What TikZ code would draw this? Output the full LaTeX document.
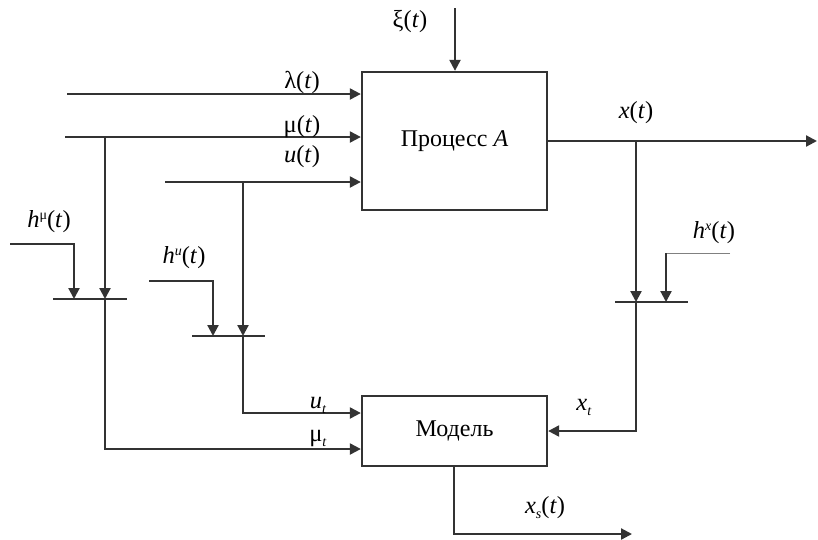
\documentclass[tikz,border=0pt]{standalone}
\usepackage{fontspec}
\setmainfont{Liberation Serif}
\usetikzlibrary{arrows.meta}
\definecolor{ink}{HTML}{333333}
\newcommand{\ivar}[1]{\textit{#1}}
\newcommand{\lowidx}[1]{\raisebox{-0.45ex}{\fontsize{14}{14}\selectfont #1}}
\newcommand{\upidx}[1]{\raisebox{0.75ex}{\fontsize{14}{14}\selectfont #1}}
\tikzset{
  wire/.style={draw=ink, line width=2.2pt},
  thinwire/.style={draw=gray, line width=1pt},
  sig/.style={wire, -{Triangle[length=11pt,width=11pt]}},
  bar/.style={draw=ink, line width=2.2pt},
  block/.style={draw=ink, line width=2.3pt, fill=white, inner sep=0pt, font=\fontsize{24}{28}\selectfont},
  lbl/.style={inner sep=0pt, font=\fontsize{24.5}{28}\selectfont}
}
\begin{document}
\begin{tikzpicture}[x=1pt, y=-1pt]
\useasboundingbox (0,0) rectangle (818,539);

% blocks
\node[block, minimum width=185pt, minimum height=138pt] (proc) at (454.5,141) {Процесс \ivar{A}};
\node[block, minimum width=185pt, minimum height=70pt] (model) at (454.5,431) {Модель};

% input ends and branch points
\coordinate (xiIn) at (455,8);
\coordinate (lamIn) at (67,94);
\coordinate (muIn) at (65,137);
\coordinate (uIn) at (165,182);
\coordinate (muBr) at (105,137);
\coordinate (uBr) at (243,182);
\coordinate (xBr) at (636,141);
\coordinate (xOut) at (817,141);

% sampler bars
\coordinate (bmL) at (53,299);  \coordinate (bmR) at (127,299);
\coordinate (buL) at (192,336); \coordinate (buR) at (265,336);
\coordinate (bxL) at (615,302); \coordinate (bxR) at (688,302);
\coordinate (bm) at (105,299);
\coordinate (bu) at (243,336);
\coordinate (bx) at (636,302);

% clock inputs of the samplers
\coordinate (hmIn) at (10,244);  \coordinate (hmC) at (74,244);  \coordinate (hmB) at (74,299);
\coordinate (huIn) at (149,281); \coordinate (huC) at (213,281); \coordinate (huB) at (213,336);
\coordinate (hxIn) at (730,253); \coordinate (hxC) at (666,253); \coordinate (hxB) at (666,302);

% model output
\coordinate (xsC) at (454,534);
\coordinate (xsOut) at (632,534);

% process inputs and output
\draw[sig] (xiIn) -- (xiIn |- proc.north);
\draw[sig] (lamIn) -- (lamIn -| proc.west);
\draw[sig] (muIn) -- (muIn -| proc.west);
\draw[sig] (uIn) -- (uIn -| proc.west);
\draw[sig] (xBr -| proc.east) -- (xOut);

% sampling bars
\draw[bar] (bmL) -- (bmR);
\draw[bar] (buL) -- (buR);
\draw[bar] (bxL) -- (bxR);

% signals into the samplers
\draw[sig] (muBr) -- (bm);
\draw[sig] (uBr) -- (bu);
\draw[sig] (xBr) -- (bx);
\draw[sig] (hmIn) -- (hmC) -- (hmB);
\draw[sig] (huIn) -- (huC) -- (huB);
\draw[thinwire] (hxIn) -- (hxC);
\draw[sig] (hxC) -- (hxB);

% sampled values into the model
\draw[sig] (bu) |- (model.west |- 0,413);
\draw[sig] (bm) |- (model.west |- 0,449);
\draw[sig] (bx) |- (model.east);
\draw[sig] (model.south -| xsC) -- (xsC) -- (xsOut);

% labels
\node[lbl] (lxi) at (410,22) {ξ(\ivar{t})};
\node[lbl] (llam) at (302,82) {λ(\ivar{t})};
\node[lbl] (lmu) at (302,127) {μ(\ivar{t})};
\node[lbl] (lu) at (302,157) {\ivar{u}(\ivar{t})};
\node[lbl] (lx) at (636,113) {\ivar{x}(\ivar{t})};
\node[lbl] (lhm) at (49,222) {\ivar{h}\upidx{μ}(\ivar{t})};
\node[lbl] (lhu) at (184,258) {\ivar{h}\upidx{\ivar{u}}(\ivar{t})};
\node[lbl] (lhx) at (714,233) {\ivar{h}\upidx{\ivar{x}}(\ivar{t})};
\node[lbl] (lut) at (318,405) {\ivar{u}\lowidx{\ivar{t}}};
\node[lbl] (lmut) at (318,438) {μ\lowidx{\ivar{t}}};
\node[lbl] (lxt) at (584,407) {\ivar{x}\lowidx{\ivar{t}}};
\node[lbl] (lxs) at (545,508) {\ivar{x}\lowidx{\ivar{s}}(\ivar{t})};
\end{tikzpicture}
\end{document}
